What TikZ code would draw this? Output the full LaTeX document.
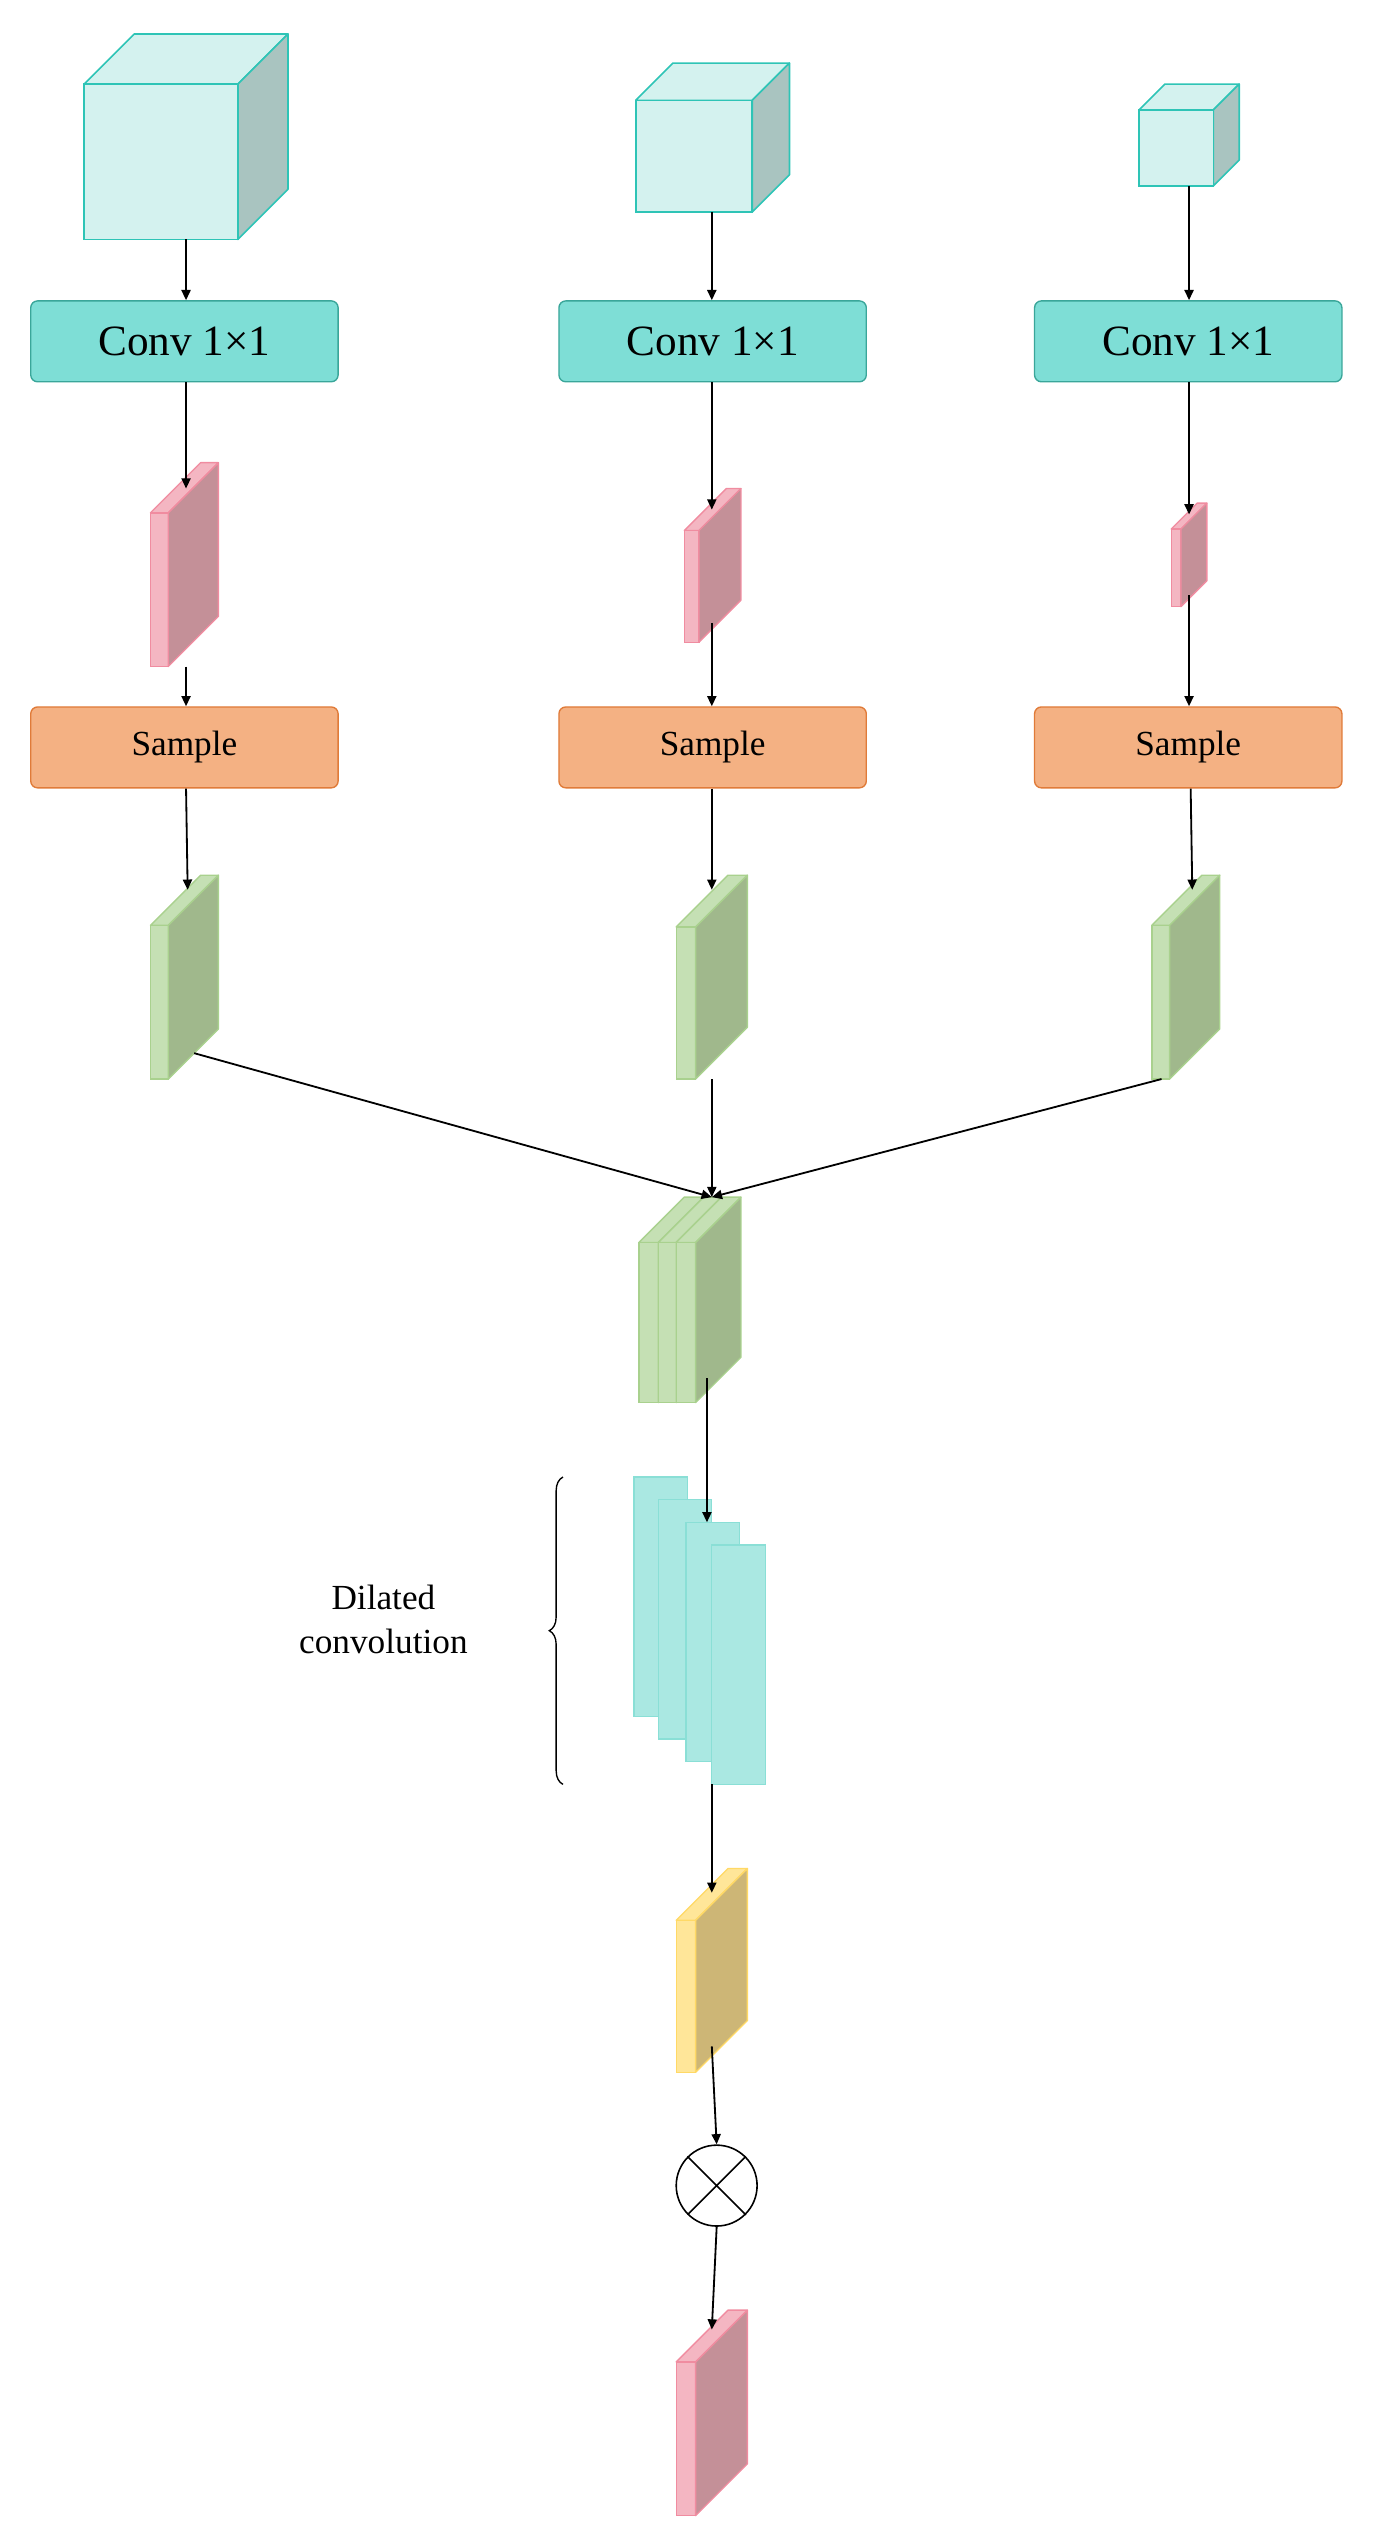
\documentclass[tikz,border=0pt]{standalone}
\usepackage{fontspec}
\setmainfont{Liberation Serif}
\usetikzlibrary{arrows.meta,decorations.pathreplacing}
\definecolor{cubef}{HTML}{D4F2EF}\definecolor{cubes}{HTML}{A9C4C0}\definecolor{cubel}{HTML}{2EC4B6}
\definecolor{convf}{HTML}{7EDED6}\definecolor{convl}{HTML}{3AA69A}
\definecolor{samf}{HTML}{F4B183}\definecolor{saml}{HTML}{E07B39}
\definecolor{pinkl}{HTML}{F4B6C2}\definecolor{pinkd}{HTML}{C49098}\definecolor{pinks}{HTML}{F08CA0}
\definecolor{grnl}{HTML}{C5E0B4}\definecolor{grnd}{HTML}{A0B88C}\definecolor{grns}{HTML}{A9D18E}
\definecolor{yell}{HTML}{FFE699}\definecolor{yeld}{HTML}{CDB676}\definecolor{yels}{HTML}{FFD966}
\definecolor{dilf}{HTML}{AAE8E2}\definecolor{dils}{HTML}{8ADFD6}
% slab: x0 y0(top of back) w d y1(bottom of front) light dark stroke
\newcommand\myslab[8]{%
 \filldraw[fill=#6,draw=#8,line width=1.2pt,line join=round] (#1,#2+#4) -- (#1+#4,#2) -- (#1+#3+#4,#2) -- (#1+#3,#2+#4) -- cycle;
 \filldraw[fill=#6,draw=#8,line width=1.2pt] (#1,#2+#4) rectangle (#1+#3,#5);
 \filldraw[fill=#7,draw=#8,line width=1.2pt,line join=round] (#1+#3,#2+#4) -- (#1+#3+#4,#2) -- (#1+#3+#4,#5-#4) -- (#1+#3,#5) -- cycle;}
\newcommand\mycube[5]{% x0 y0 x1 y1 d (front face)
 \filldraw[fill=cubef,draw=cubel,line width=1.4pt,line join=round] (#1,#2) -- (#1+#5,#2-#5) -- (#3+#5,#2-#5) -- (#3,#2) -- cycle;
 \filldraw[fill=cubes,draw=cubel,line width=1.4pt,line join=round] (#3,#2) -- (#3+#5,#2-#5) -- (#3+#5,#4-#5) -- (#3,#4) -- cycle;
 \filldraw[fill=cubef,draw=cubel,line width=1.4pt] (#1,#2) rectangle (#3,#4);}
\tikzset{
 conv/.style={draw=convl,fill=convf,line width=1.2pt,rounded corners=6pt,minimum width=190*0.05cm,minimum height=50*0.05cm,inner sep=0pt,font=\fontsize{38}{40}\selectfont},
 samp/.style={conv,draw=saml,fill=samf,font=\fontsize{31}{34}\selectfont},
 arr/.style={-{Triangle[length=9pt,width=8pt]},line width=1.6pt},
}
\begin{document}
\begin{tikzpicture}[x=0.05cm,y=-0.05cm]
\useasboundingbox (0,0) rectangle (850,1567);
% cubes
\mycube{52}{52}{147}{148}{31}
\mycube{393}{62}{465}{131}{23}
\mycube{704}{68}{750}{115}{16}
\coordinate (c1) at (115,148); \coordinate (c2) at (440,131); \coordinate (c3) at (735,115);
% conv
\node[conv] (cv1) at (114,211) {Conv 1×1};
\node[conv] (cv2) at (440.5,211) {Conv 1×1};
\node[conv] (cv3) at (734.5,211) {Conv 1×1};
% pink slabs
\myslab{93}{286}{11}{31}{412}{pinkl}{pinkd}{pinks}
\myslab{423}{302}{9}{26}{397}{pinkl}{pinkd}{pinks}
\myslab{724}{311}{6}{16}{375}{pinkl}{pinkd}{pinks}
\coordinate (p1t) at (115,302); \coordinate (p1b) at (115,412);
\coordinate (p2t) at (440,315); \coordinate (p2b) at (440,385);
\coordinate (p3t) at (735,318); \coordinate (p3b) at (735,368);
% sample
\node[samp] (s1) at (114,462) {Sample};
\node[samp] (s2) at (440.5,462) {Sample};
\node[samp] (s3) at (734.5,462) {Sample};
% green slabs
\myslab{93}{541}{11}{31}{667}{grnl}{grnd}{grns}
\myslab{418}{541}{12}{32}{667}{grnl}{grnd}{grns}
\myslab{712}{541}{11}{31}{667}{grnl}{grnd}{grns}
\coordinate (g1t) at (116,550); \coordinate (g1b) at (120,651);
\coordinate (g2t) at (440,550); \coordinate (g2b) at (440,667);
\coordinate (g3t) at (737,550); \coordinate (g3b) at (718,667);
% merged stack
\myslab{395}{740}{12}{28}{867}{grnl}{grnd}{grns}
\myslab{407}{740}{11}{28}{867}{grnl}{grnd}{grns}
\myslab{418}{740}{12}{28}{867}{grnl}{grnd}{grns}
\coordinate (mt) at (440,740); \coordinate (mb) at (437,852);
% dilated
\foreach \i/\x/\y in {0/392/913,1/407/927,2/424/941,3/440/955}
  \filldraw[fill=dilf,draw=dils,line width=1.2pt] (\x,\y) rectangle (\x+33,\y+148);
\coordinate (dt) at (437,941); \coordinate (db) at (440,1103);
\draw[line width=1.2pt,decorate,decoration={brace,amplitude=12pt}] (348,1103) -- (348,913);
\node[align=center,font=\fontsize{31}{38}\selectfont] (dl) at (237,1001) {Dilated\\convolution};
% yellow
\myslab{418}{1155}{12}{32}{1281}{yell}{yeld}{yels}
\coordinate (yt) at (440,1170); \coordinate (yb) at (440,1265);
% multiply
\node[draw,circle,line width=1.4pt,minimum size=50*0.05cm,inner sep=0pt] (m) at (443,1351) {};
\draw[line width=1.4pt] (m.45) -- (m.225) (m.135) -- (m.315);
% output
\myslab{418}{1428}{12}{32}{1555}{pinkl}{pinkd}{pinks}
\coordinate (ot) at (440,1440);
% arrows
\draw[arr] (c1) -- (cv1.north -| c1);
\draw[arr] (c2) -- (cv2.north -| c2);
\draw[arr] (c3) -- (cv3.north -| c3);
\draw[arr] (cv1.south -| p1t) -- (p1t);
\draw[arr] (cv2.south -| p2t) -- (p2t);
\draw[arr] (cv3.south -| p3t) -- (p3t);
\draw[arr] (p1b) -- (s1.north -| p1b);
\draw[arr] (p2b) -- (s2.north -| p2b);
\draw[arr] (p3b) -- (s3.north -| p3b);
\draw[arr] (s1.south -| 115,0) -- (g1t);
\draw[arr] (s2.south -| g2t) -- (g2t);
\draw[arr] (s3.south -| 736,0) -- (g3t);
\draw[arr] (g1b) -- (mt);
\draw[arr] (g2b) -- (mt);
\draw[arr] (g3b) -- (mt);
\draw[arr] (mb) -- (dt);
\draw[arr] (db) -- (yt);
\draw[arr] (yb) -- (m.north);
\draw[arr] (m.south) -- (ot);
\end{tikzpicture}
\end{document}
